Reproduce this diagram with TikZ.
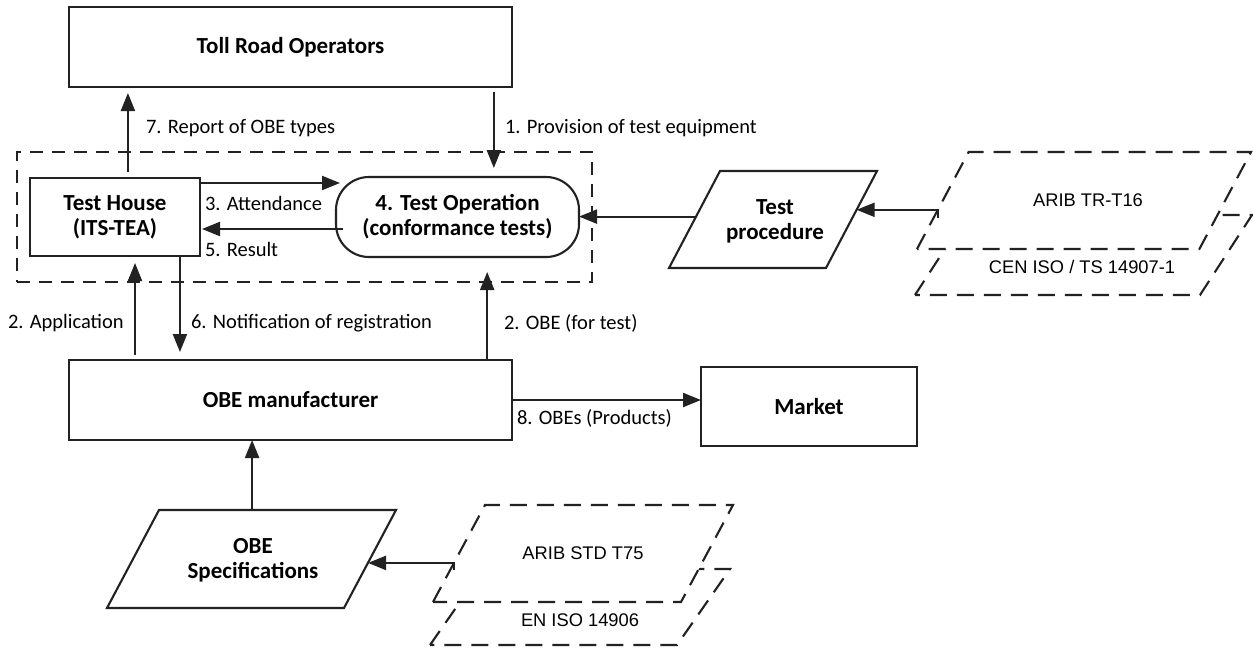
\documentclass[tikz,border=0pt]{standalone}
\usepackage{fontspec}
\setmainfont{Carlito}
\newfontfamily\arialf{Liberation Sans}
\usetikzlibrary{arrows.meta,calc}
\definecolor{ink}{HTML}{222222}
\newcommand\ttlfont{\fontsize{23}{25}\selectfont\bfseries}
\newcommand\lblfont{\fontsize{20.5}{24}\selectfont}
\newcommand\stdfont{\arialf\fontsize{18.3}{22}\selectfont}
% slanted (data) frame drawn over the extent of a named frame node
\newcommand\slantframe[3]{%
  \draw[#3] (#1.south west) -- ($(#1.north west)+(#2,0)$) -- (#1.north east)
    -- ($(#1.south east)+(-#2,0)$) -- cycle;}
\begin{document}
\begin{tikzpicture}[x=1pt,y=-1pt,
  line width=2.1pt,
  box/.style={draw=ink, fill=white, inner sep=0pt, outer sep=0pt,
    font=\ttlfont, align=center, text=black},
  roundbox/.style={box, rounded corners=33pt},
  grpbox/.style={draw=ink, inner sep=0pt, outer sep=0pt,
    dash pattern=on 13pt off 9pt},
  frame/.style={inner sep=0pt, outer sep=0pt},
  solidframe/.style={draw=ink, fill=white},
  dashframe/.style={draw=ink, fill=white, dash pattern=on 17pt off 10pt},
  datatext/.style={font=\ttlfont, align=center, inner sep=0pt, text=black},
  stdtext/.style={font=\stdfont, inner sep=0pt, text=black},
  lbl/.style={font=\lblfont, anchor=west, inner sep=0pt, text=black},
  arr/.style={draw=ink, line width=2.1pt, -{Triangle[length=18pt,width=14pt]}},
]
\useasboundingbox (0,0) rectangle (1253,649);

% test house group
\node[grpbox, minimum width=575pt, minimum height=130pt] (grp) at (304.5,217) {};

% main boxes
\node[box, minimum width=443pt, minimum height=80pt] (toll) at (290.5,47) {Toll Road Operators};
\node[box, minimum width=170pt, minimum height=78pt] (house) at (115,217) {Test House\\(ITS-TEA)};
\node[roundbox, minimum width=243pt, minimum height=80pt] (testop) at (457.5,217) {4. Test Operation\\(conformance tests)};
\node[box, minimum width=443pt, minimum height=80pt] (obe) at (290.5,400) {OBE manufacturer};
\node[box, minimum width=216pt, minimum height=79pt] (market) at (809,406.5) {Market};

% data shapes
\node[frame, minimum width=208pt, minimum height=97pt] (proc) at (773,219.5) {};
\slantframe{proc}{51}{solidframe}
\node[datatext] (proctxt) at (775,221) {Test\\procedure};

\node[frame, minimum width=289pt, minimum height=98pt] (spec) at (251.5,559) {};
\slantframe{spec}{52}{solidframe}
\node[datatext] (spectxt) at (253,560) {OBE\\Specifications};

% standards: rear shape first, front shape on top
\node[frame, minimum width=337pt, minimum height=80pt] (cen) at (1083.5,255) {};
\slantframe{cen}{52}{dashframe}
\node[frame, minimum width=334pt, minimum height=97pt] (arib) at (1084,200.5) {};
\slantframe{arib}{51.6}{dashframe}
\node[stdtext] (aribtxt) at (1088,200) {ARIB TR-T16};
\node[stdtext] (centxt) at (1082,267) {CEN ISO / TS 14907-1};

\node[frame, minimum width=300pt, minimum height=76pt] (en) at (580,607) {};
\slantframe{en}{53}{dashframe}
\node[frame, minimum width=300pt, minimum height=97pt] (t75) at (583,553.5) {};
\slantframe{t75}{52}{dashframe}
\node[stdtext] (t75txt) at (583,553) {ARIB STD T75};
\node[stdtext] (entxt) at (580,620) {EN ISO 14906};

% connection points on the borders
\coordinate (p7) at ($(house.north west)!0.576!(house.north east)$);
\coordinate (p1) at ($(toll.south west)!0.959!(toll.south east)$);
\coordinate (p3) at ($(house.north east)+(0,5)$);
\coordinate (p5) at ($(testop.west)+(0,12)$);
\coordinate (p2a) at ($(obe.north west)!0.149!(obe.north east)$);
\coordinate (p6) at ($(house.south west)!0.882!(house.south east)$);
\coordinate (p2b) at ($(obe.north west)!0.944!(obe.north east)$);
\coordinate (pspec) at ($(spec.north west)!0.502!(spec.north east)$);
\coordinate (pprocl) at ($(proc.south west)!0.53!(proc.north west)+(27,0)$);
\coordinate (pprocr) at ($(proc.south east)!0.6!(proc.north east)+(-20.4,0)$);
\coordinate (parib) at ($(arib.south west)!0.40!(arib.north west)+(20.6,0)$);
\coordinate (pspecr) at ($(spec.south east)!0.46!(spec.north east)+(-28,0)$);
\coordinate (pt75) at ($(t75.south west)!0.40!(t75.north west)+(20.8,0)$);

% connectors
\draw[arr, shorten <=6pt, shorten >=6pt] (p7) -- (p7 |- toll.south);
\draw[arr, shorten <=5pt, shorten >=9pt] (p1) -- (p1 |- testop.north);
\draw[arr, shorten >=-4pt] (p3) -- (p3 -| testop.west);
\draw[arr, shorten <=-7pt, shorten >=2pt] (p5) -- (p5 -| house.east);
\draw[arr, shorten <=5pt, shorten >=7pt] (p2a) -- (p2a |- house.south);
\draw[arr, shorten >=8pt] (p6) -- (p6 |- obe.north);
\draw[arr, shorten >=15pt] (p2b) -- (p2b |- testop.south);
\draw[arr] (obe.east) -- (obe.east -| market.west);
\draw[arr] (pspec) -- (pspec |- obe.south);
\draw[arr] (pprocl) -- (pprocl -| testop.east);
\draw[arr] ($(parib)+(0,8)$) |- (pprocr);
\draw[arr] ($(pt75)+(0,7)$) |- (pspecr);

% connector labels
\node[lbl] (l7) at (145,128) {7. Report of OBE types};
\node[lbl] (l1) at (504,128) {1. Provision of test equipment};
\node[lbl] (l3) at (204,203) {3. Attendance};
\node[lbl] (l5) at (204,249) {5. Result};
\node[lbl] (l2a) at (7,323) {2. Application};
\node[lbl] (l6) at (190,323) {6. Notification of registration};
\node[lbl] (l2b) at (503,323) {2. OBE (for test)};
\node[lbl] (l8) at (516,418) {8. OBEs (Products)};
\end{tikzpicture}
\end{document}
